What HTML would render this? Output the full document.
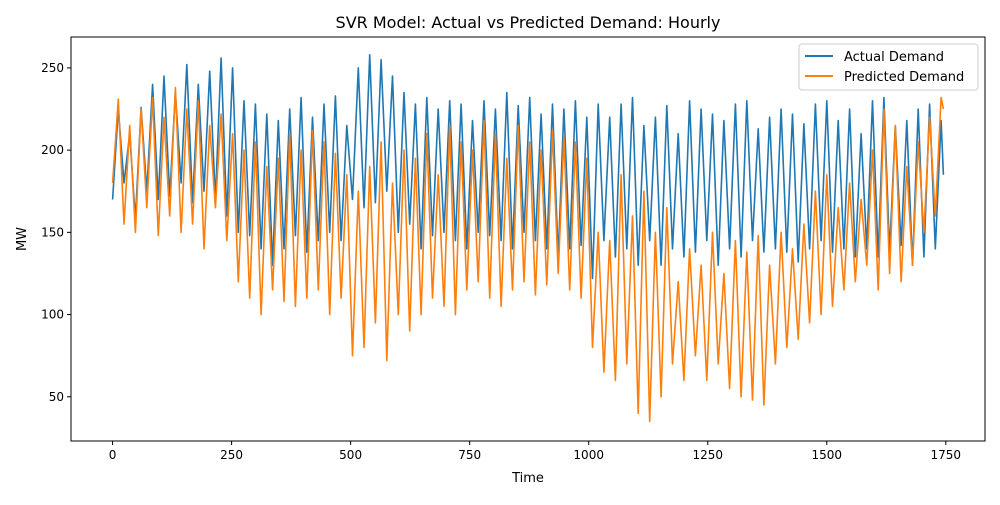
<!DOCTYPE html>
<html><head><meta charset="utf-8"><style>
body{margin:0;background:#fff;font-family:"Liberation Sans","DejaVu Sans",sans-serif}
svg text{font-family:"DejaVu Sans","Liberation Sans",sans-serif}
</style></head><body>
<svg id="chart" width="1000" height="500" viewBox="0 0 1000 500">
<rect width="1000" height="500" fill="#fff"/>
<text x="528" y="28" font-size="16" text-anchor="middle">SVR Model: Actual vs Predicted Demand:  Hourly</text>
<g id="plot"></g>
<rect x="71" y="37" width="914" height="404" fill="none" stroke="#000" stroke-width="1"/>
<g id="axes"></g>
<text x="528" y="482" font-size="13" text-anchor="middle">Time</text>
<text transform="translate(26,239) rotate(-90)" font-size="13" text-anchor="middle">MW</text>
<g>
<rect x="799" y="44" width="179" height="46" rx="3" fill="#fff" fill-opacity="0.8" stroke="#ccc"/>
<g><line x1="805" y1="56" x2="833" y2="56" stroke="#1f77b4" stroke-width="2"/><text x="844" y="61" font-size="13">Actual Demand</text></g>
<g><line x1="805" y1="76" x2="833" y2="76" stroke="#ff7f0e" stroke-width="2"/><text x="844" y="81" font-size="13">Predicted Demand</text></g>
</g>
</svg>
<script>
const actualPeaks=[225,210,226,240,245,235,252,240,248,256,250,230,228,222,218,225,232,220,228,233,215,250,258,255,245,235,228,232,225,230,228,218,230,225,235,227,232,222,228,225,230,220,228,220,228,232,215,220,227,210,230,225,222,218,228,230,213,220,225,222,216,228,230,218,225,210,230,232,215,218,225,228,218];
const actualTroughs=[170,180,158,175,170,172,180,168,175,170,160,150,148,140,130,140,148,138,145,150,145,170,165,168,175,150,155,140,148,150,145,140,150,148,145,140,150,145,140,135,140,142,122,145,135,140,130,145,130,140,135,138,145,130,140,135,145,138,140,138,132,140,145,138,140,135,140,135,138,142,130,135,140];
const actualEnd=185;
const predPeaks=[231,215,225,232,220,238,225,230,215,222,210,200,205,190,195,210,200,212,205,198,185,175,190,205,180,200,195,210,185,215,205,200,218,210,195,215,205,200,212,208,205,195,150,145,185,160,175,150,165,120,140,130,150,125,145,138,148,130,150,140,155,175,185,165,180,170,200,225,215,190,205,220,232];
const predTroughs=[180,155,150,165,148,160,150,155,140,165,145,120,110,100,115,108,105,110,115,100,110,75,80,95,72,100,90,100,110,105,100,115,120,110,105,115,120,112,118,125,115,110,80,65,60,70,40,35,50,70,60,75,60,70,55,50,48,45,70,80,85,95,100,105,115,120,130,115,125,120,130,150,160];
const predEnd=225;
const xTicks=[0,250,500,750,1000,1250,1500,1750];
const yTicks=[50,100,150,200,250];
const NS='http://www.w3.org/2000/svg';
const X0=71,X1=985,Y0=441,Y1=37,xmin=-87.3,xmax=1832.3,ymin=23.1,ymax=268.8;
function sx(v){return X0+(v-xmin)/(xmax-xmin)*(X1-X0);}
function sy(v){return Y0-(v-ymin)/(ymax-ymin)*(Y0-Y1);}
function build(peaks,troughs,end){
  const pts=[];
  for(let d=0;d<peaks.length;d++){pts.push([d*24,troughs[d]]);pts.push([d*24+12,peaks[d]]);}
  pts.push([1745,end]);
  return pts.map(p=>sx(p[0]).toFixed(1)+','+sy(p[1]).toFixed(1)).join(' ');
}
const plot=document.getElementById('plot');
const la=document.createElementNS(NS,'polyline');
la.setAttribute('points',build(actualPeaks,actualTroughs,actualEnd));
la.setAttribute('fill','none');la.setAttribute('stroke','#1f77b4');la.setAttribute('stroke-width','1.6');la.setAttribute('stroke-linejoin','round');


plot.appendChild(la);
const lp=document.createElementNS(NS,'polyline');
lp.setAttribute('points',build(predPeaks,predTroughs,predEnd));
lp.setAttribute('fill','none');lp.setAttribute('stroke','#ff7f0e');lp.setAttribute('stroke-width','1.6');lp.setAttribute('stroke-linejoin','round');


plot.appendChild(lp);
const axes=document.getElementById('axes');
xTicks.forEach(t=>{
  const x=sx(t);
  const l=document.createElementNS(NS,'line');
  l.setAttribute('x1',x);l.setAttribute('x2',x);l.setAttribute('y1',Y0);l.setAttribute('y2',Y0+4);l.setAttribute('stroke','#000');
  
  
  axes.appendChild(l);
  const tx=document.createElementNS(NS,'text');
  tx.setAttribute('x',x);tx.setAttribute('y',Y0+18);tx.setAttribute('font-size','12');tx.setAttribute('text-anchor','middle');
  tx.textContent=t;
  
  
  axes.appendChild(tx);
});
yTicks.forEach(t=>{
  const y=sy(t);
  const l=document.createElementNS(NS,'line');
  l.setAttribute('x1',X0-4);l.setAttribute('x2',X0);l.setAttribute('y1',y);l.setAttribute('y2',y);l.setAttribute('stroke','#000');
  
  
  axes.appendChild(l);
  const tx=document.createElementNS(NS,'text');
  tx.setAttribute('x',X0-7);tx.setAttribute('y',y+4);tx.setAttribute('font-size','12');tx.setAttribute('text-anchor','end');
  tx.textContent=t;
  
  
  axes.appendChild(tx);
});
</script>
</body></html>
